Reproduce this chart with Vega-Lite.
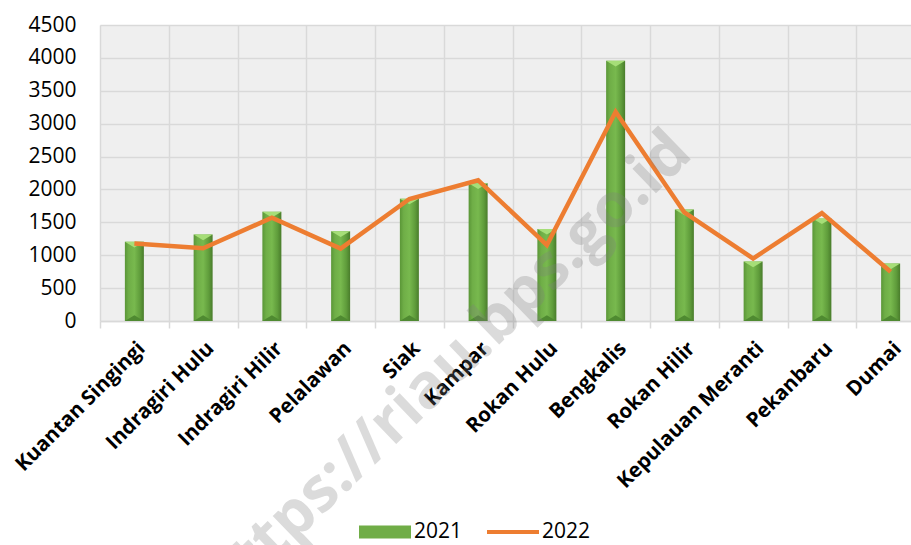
{
  "$schema": "https://vega.github.io/schema/vega-lite/v6.json",
  "width": 811,
  "height": 296,
  "autosize": {"type": "none"},
  "padding": {"left": 100, "top": 25, "right": 0, "bottom": 224},
  "background": "white",
  "config": {
    "view": {"stroke": null, "fill": "#efefef"},
    "font": "Open Sans",
    "axisY": {"title": null, "labelOverlap": false, "labelFontSize": 21, "labelColor": "#000000", "labelFont": "Open Sans",
      "ticks": false, "domain": false, "labelPadding": 24, "grid": true, "gridColor": "#d9d9d9", "gridWidth": 1.5}
  },
  "data": {"values": [
    {"region": "Kuantan Singingi", "2021": 1205, "2022": 1180},
    {"region": "Indragiri Hulu", "2021": 1315, "2022": 1105},
    {"region": "Indragiri Hilir", "2021": 1660, "2022": 1570},
    {"region": "Pelalawan", "2021": 1365, "2022": 1100},
    {"region": "Siak", "2021": 1860, "2022": 1855},
    {"region": "Kampar", "2021": 2095, "2022": 2140},
    {"region": "Rokan Hulu", "2021": 1400, "2022": 1155},
    {"region": "Bengkalis", "2021": 3955, "2022": 3180},
    {"region": "Rokan Hilir", "2021": 1695, "2022": 1650},
    {"region": "Kepulauan Meranti", "2021": 905, "2022": 950},
    {"region": "Pekanbaru", "2021": 1560, "2022": 1640},
    {"region": "Dumai", "2021": 875, "2022": 750}
  ]},
  "encoding": {
    "x": {
      "field": "region", "type": "nominal", "sort": null,
      "scale": {"range": [0, 825], "paddingInner": 0, "paddingOuter": 0},
      "axis": {
        "title": null, "labelAngle": -45, "labelFontSize": 20.5, "labelFontWeight": "bold",
        "labelColor": "#000000", "labelFont": "Open Sans", "labelPadding": 10, "labelLimit": 400,
        "labelOverlap": false,
        "tickBand": "extent", "tickSize": 7, "tickColor": "#d9d9d9", "tickWidth": 1.5,
        "domainColor": "#d9d9d9", "domainWidth": 1.5,
        "grid": true, "gridColor": "#d9d9d9", "gridWidth": 1.5
      }
    }
  },
  "layer": [
    {
      "mark": {"type": "bar", "width": 19, "color": {"gradient": "linear", "x1": 0, "x2": 1, "y1": 0, "y2": 0, "stops": [
        {"offset": 0, "color": "#5a9637"}, {"offset": 0.2, "color": "#6fae47"}, {"offset": 0.5, "color": "#78b94e"}, {"offset": 0.8, "color": "#5f9c3b"}, {"offset": 1, "color": "#497c2b"}]}},
      "encoding": {
        "y": {"field": "2021", "type": "quantitative", "scale": {"domain": [0, 4500], "nice": false},
          "axis": {"values": [0, 500, 1000, 1500, 2000, 2500, 3000, 3500, 4000, 4500], "format": "d"}}
      }
    },
    {
      "mark": {"type": "point", "shape": "M-1,0L1,0L0,0.6Z", "size": 361, "filled": true, "color": "#a6de78", "opacity": 1, "strokeWidth": 0},
      "encoding": {"y": {"field": "2021", "type": "quantitative",
        "axis": {"values": [0, 500, 1000, 1500, 2000, 2500, 3000, 3500, 4000, 4500], "format": "d"}}}
    },
    {
      "mark": {"type": "point", "shape": "M-1,0L1,0L0,-0.6Z", "size": 361, "filled": true, "color": "#4f8a31", "opacity": 1, "strokeWidth": 0},
      "encoding": {"y": {"datum": 0, "type": "quantitative",
        "axis": {"values": [0, 500, 1000, 1500, 2000, 2500, 3000, 3500, 4000, 4500], "format": "d"}}}
    },
    {
      "mark": {"type": "line", "color": "#ed7d31", "strokeWidth": 4.5, "strokeJoin": "miter"},
      "encoding": {"y": {"field": "2022", "type": "quantitative",
        "axis": {"values": [0, 500, 1000, 1500, 2000, 2500, 3000, 3500, 4000, 4500], "format": "d"}}}
    },
    {
      "transform": [{"fold": ["2021", "2022"], "as": ["year", "val"]}],
      "mark": {"type": "point", "filled": true, "opacity": 0},
      "encoding": {
        "y": {"field": "val", "type": "quantitative",
          "axis": {"values": [0, 500, 1000, 1500, 2000, 2500, 3000, 3500, 4000, 4500], "format": "d"}},
        "color": {"field": "year", "type": "nominal", "scale": {"domain": ["2021", "2022"], "range": ["#70ad47", "#ed7d31"]},
          "legend": {"title": null, "orient": "none", "legendX": 259, "legendY": 481, "direction": "horizontal",
            "symbolSize": 2704, "labelFontSize": 21, "labelFont": "Open Sans", "labelColor": "#000000",
            "labelOffset": 3, "columnPadding": 24, "symbolOpacity": 1, "symbolStrokeWidth": 0,
            "encode": {"symbols": {"update": {"opacity": {"value": 1}}}}}},
        "shape": {"field": "year", "type": "nominal", "scale": {"domain": ["2021", "2022"], "range": ["M-1,-0.25H1V0.25H-1Z", "M-1,-0.08H1V0.08H-1Z"]}}
      }
    },
    {
      "data": {"values": [{"t": "https://riau.bps.go.id"}]},
      "mark": {"type": "text", "angle": -44, "fontSize": 62, "fontWeight": "bold", "color": "#7f7f7f", "opacity": 0.28, "xOffset": 37, "align": "center", "baseline": "middle"},
      "encoding": {
        "x": {"datum": "Siak", "type": "nominal"},
        "y": {"datum": -730, "type": "quantitative",
          "axis": {"values": [0, 500, 1000, 1500, 2000, 2500, 3000, 3500, 4000, 4500], "format": "d"}},
        "text": {"field": "t"}
      }
    }
  ]
}
